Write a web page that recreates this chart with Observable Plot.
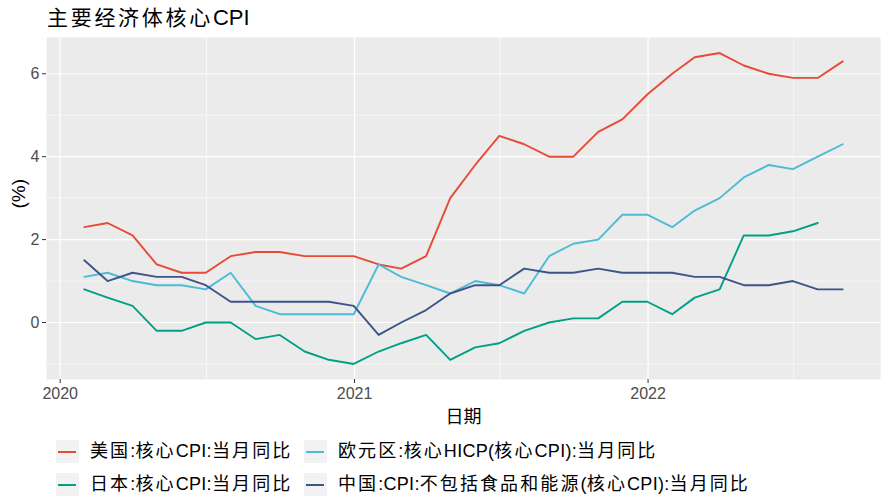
<!DOCTYPE html>
<html><head><meta charset="utf-8">
<script src="https://cdn.jsdelivr.net/npm/d3@7"></script>
<script src="https://cdn.jsdelivr.net/npm/@observablehq/plot@0.6"></script>
<style>
body{margin:0;background:#fff;}
#root{position:relative;width:888px;height:504px;overflow:hidden;font-family:"Liberation Sans","Noto Sans CJK SC",sans-serif;}
#title{position:absolute;left:47px;top:7px;font-size:21px;line-height:22px;color:#000;white-space:nowrap;}
#title .cjk{letter-spacing:2.7px;}
#title .lat{font-size:22px;letter-spacing:0;}
#chart{position:absolute;left:0;top:32px;}
.leg{position:absolute;display:flex;align-items:center;font-size:18px;line-height:23px;color:#000;white-space:nowrap;}
.leg .cjk{letter-spacing:2.1px;}
.leg .lat{letter-spacing:0.3px;}
.key{width:23px;height:23px;background:#F2F2F2;position:relative;margin-right:11px;flex:none;}
.key span{position:absolute;left:2px;right:3px;top:10.5px;height:2px;}
</style></head>
<body>
<div id="root">
  <div id="title"></div>
  <div id="chart"></div>
  <div id="legend"></div>
</div>
<script>
const titleText = "主要经济体核心CPI";
const dates = ["2020-01-31","2020-02-29","2020-03-31","2020-04-30","2020-05-31","2020-06-30","2020-07-31","2020-08-31","2020-09-30","2020-10-31","2020-11-30","2020-12-31",
"2021-01-31","2021-02-28","2021-03-31","2021-04-30","2021-05-31","2021-06-30","2021-07-31","2021-08-31","2021-09-30","2021-10-31","2021-11-30","2021-12-31",
"2022-01-31","2022-02-28","2022-03-31","2022-04-30","2022-05-31","2022-06-30","2022-07-31","2022-08-31"];
const usCore = [2.3,2.4,2.1,1.4,1.2,1.2,1.6,1.7,1.7,1.6,1.6,1.6, 1.4,1.3,1.6,3.0,3.8,4.5,4.3,4.0,4.0,4.6,4.9,5.5, 6.0,6.4,6.5,6.2,6.0,5.9,5.9,6.3];
const euroCore = [1.1,1.2,1.0,0.9,0.9,0.8,1.2,0.4,0.2,0.2,0.2,0.2, 1.4,1.1,0.9,0.7,1.0,0.9,0.7,1.6,1.9,2.0,2.6,2.6, 2.3,2.7,3.0,3.5,3.8,3.7,4.0,4.3];
const japanCore = [0.8,0.6,0.4,-0.2,-0.2,0.0,0.0,-0.4,-0.3,-0.7,-0.9,-1.0, -0.7,-0.5,-0.3,-0.9,-0.6,-0.5,-0.2,0.0,0.1,0.1,0.5,0.5, 0.2,0.6,0.8,2.1,2.1,2.2,2.4,null];
const chinaCore = [1.5,1.0,1.2,1.1,1.1,0.9,0.5,0.5,0.5,0.5,0.5,0.4, -0.3,0.0,0.3,0.7,0.9,0.9,1.3,1.2,1.2,1.3,1.2,1.2, 1.2,1.1,1.1,0.9,0.9,1.0,0.8,0.8];
const seriesNames = ["美国:核心CPI:当月同比","欧元区:核心HICP(核心CPI):当月同比","日本:核心CPI:当月同比","中国:CPI:不包括食品和能源(核心CPI):当月同比"];
const seriesColors = ["#E64B35","#4DBBD5","#00A087","#3C5488"];
const seriesValues = [usCore, euroCore, japanCore, chinaCore];
const yMajor = [0,2,4,6];
const yMinor = [-1,1,3,5];
const xMajorLabels = ["2020-01-01","2021-01-01","2022-01-01"];
const xMinorLabels = ["2020-07-01","2021-07-01","2022-07-01"];
const xDomain = ["2019-12-15","2022-10-17"];
const yDomain = [-1.375, 6.875];
const yTitle = "(%)";
const xTitle = "日期";

// wrap runs of Latin / CJK characters in spans for separate spacing
function runs(s) {
  return s.replace(/([\x00-\x7F]+)|([^\x00-\x7F]+)/g, (m, a) =>
    a ? `<span class="lat">${m}</span>` : `<span class="cjk">${m}</span>`);
}
document.getElementById("title").innerHTML = runs(titleText);

const parse = d3.utcParse("%Y-%m-%d");
const rows = [];
seriesValues.forEach((vals, k) => vals.forEach((v, i) => {
  if (v != null) rows.push({date: parse(dates[i]), value: v, name: seriesNames[k]});
}));
const xMajor = xMajorLabels.map(parse);
const xMinor = xMinorLabels.map(parse);
const font = '"Liberation Sans","Noto Sans CJK SC",sans-serif';

const chart = Plot.plot({
  width: 888, height: 400,
  marginLeft: 46, marginRight: 8, marginTop: 5, marginBottom: 53,
  x: {type: "utc", domain: xDomain.map(parse)},
  y: {domain: yDomain},
  color: {domain: seriesNames, range: seriesColors},
  style: {fontFamily: font, fontSize: "15px", color: "#4D4D4D", background: "transparent"},
  marks: [
    Plot.frame({fill: "#EBEBEB", stroke: "none"}),
    Plot.ruleY(yMinor, {stroke: "#fff", strokeWidth: 0.6}),
    Plot.ruleX(xMinor, {stroke: "#fff", strokeWidth: 0.6}),
    Plot.ruleY(yMajor, {stroke: "#fff", strokeWidth: 1.2}),
    Plot.ruleX(xMajor, {stroke: "#fff", strokeWidth: 1.2}),
    Plot.lineY(rows, {x: "date", y: "value", stroke: "name", strokeWidth: 1.9}),
    Plot.axisY(yMajor, {tickSize: 4, tickPadding: 3, stroke: "#333333", fill: "#4D4D4D", fontSize: 16, label: null}),
    Plot.axisX(xMajor, {tickSize: 4, tickPadding: 4, stroke: "#333333", fill: "#4D4D4D", fontSize: 16, tickFormat: d3.utcFormat("%Y"), label: null}),
    Plot.text([yTitle], {text: d => d, frameAnchor: "left", dx: -28, rotate: -90, fontSize: 19, fill: "#000"}),
    Plot.text([xTitle], {text: d => d, frameAnchor: "bottom", dy: 43, fontSize: 18, fill: "#000", letterSpacing: 1})
  ]
});
document.getElementById("chart").appendChild(chart);

const legend = document.getElementById("legend");
const legPos = [[56,440],[304,440],[56,473],[304,473]];
seriesNames.forEach((name, k) => {
  const d = document.createElement("div");
  d.className = "leg";
  d.style.left = legPos[k][0] + "px";
  d.style.top = legPos[k][1] + "px";
  d.innerHTML = `<div class="key"><span style="background:${seriesColors[k]}"></span></div><div>${runs(name)}</div>`;
  legend.appendChild(d);
});
</script>
</body></html>
